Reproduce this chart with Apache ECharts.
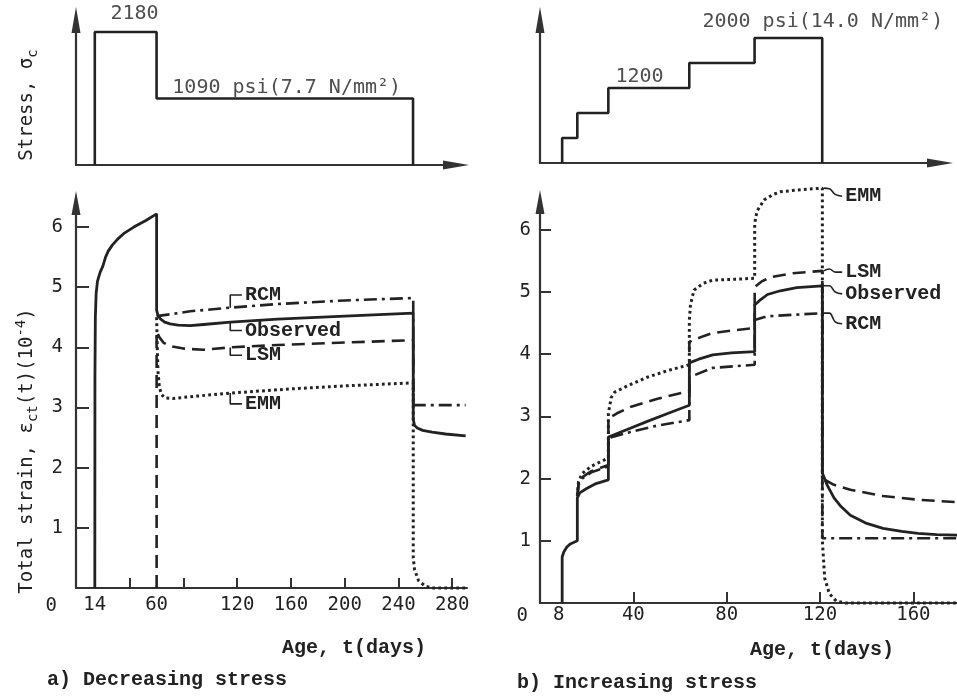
<!DOCTYPE html>
<html>
<head>
<meta charset="utf-8">
<script src="https://cdn.jsdelivr.net/npm/echarts@6/dist/echarts.min.js"></script>
<style>
  html, body { margin: 0; padding: 0; background: #fff; }
  #chart { width: 957px; height: 698px; }
</style>
</head>
<body>
<div id="chart"></div>
<script>
// ---------- a) decreasing stress ----------
// stress history [age (days), stress (psi)]
const stressA = [[14, 0], [14, 2180], [60, 2180], [60, 1090], [251, 1090], [251, 0]];

// total strain (10^-4) vs age (days)
const observedA = [
  [14, 0], [14.1, 3.5], [14.4, 4.5], [15, 4.9], [16, 5.1], [18, 5.25], [20, 5.35], [22, 5.5],
  [24, 5.6], [27, 5.7], [31, 5.8], [36, 5.9], [43, 6.0], [52, 6.11], [60, 6.22],
  [60, 4.62], [61, 4.53], [63, 4.47], [66, 4.42], [70, 4.39], [76, 4.37], [85, 4.36],
  [95, 4.38], [115, 4.42], [150, 4.47], [200, 4.52], [251, 4.57],
  [251, 2.8], [252, 2.7], [254, 2.66], [258, 2.62], [265, 2.59], [275, 2.56], [290, 2.53]
];
const rcmA = [
  [60, 4.52], [70, 4.55], [85, 4.6], [100, 4.63], [115, 4.66], [150, 4.72], [200, 4.78],
  [251, 4.82], [251, 3.04], [290, 3.04]
];
const lsmA = [
  [60, 0], [60, 4.27], [62, 4.17], [65, 4.08], [70, 4.02], [80, 3.98], [95, 3.96],
  [115, 4.0], [150, 4.04], [200, 4.08], [251, 4.12], [251, 3.04]
];
const emmA = [
  [60, 4.5], [60.5, 4.0], [61, 3.6], [62, 3.35], [63.5, 3.22], [66, 3.16], [72, 3.15],
  [90, 3.19], [115, 3.24], [160, 3.31], [200, 3.36], [251, 3.41],
  [251, 0.5], [252, 0.3], [255, 0.12], [260, 0.03], [265, 0], [290, 0]
];
const xTicksA = [40, 80, 120, 160, 200, 240, 280];
const xLabelsA = [14, 60, 120, 160, 200, 240, 280];

// ---------- b) increasing stress ----------
const stressB = [
  [9.5, 0], [9.5, 400], [16, 400], [16, 800], [29.3, 800], [29.3, 1200], [64, 1200],
  [64, 1600], [92, 1600], [92, 2000], [121, 2000], [121, 0]
];
const observedB = [
  [9.5, 0], [9.5, 0.74], [10.2, 0.82], [11.5, 0.9], [13, 0.95], [16, 1.0],
  [16, 1.69], [17, 1.77], [20, 1.84], [24, 1.92], [29.3, 1.98],
  [29.3, 2.67], [32, 2.71], [38.7, 2.81], [46, 2.92], [55, 3.05], [64, 3.18],
  [64, 3.86], [68, 3.92], [74, 3.99], [82, 4.02], [92, 4.04],
  [92, 4.79], [94, 4.86], [97.5, 4.96], [103, 5.02], [110, 5.07], [121, 5.1],
  [121, 2.09], [123, 1.9], [126, 1.69], [129, 1.55], [133, 1.41], [140, 1.28],
  [147, 1.2], [155, 1.15], [162, 1.12], [170, 1.1], [179, 1.09]
];
const rcmB = [
  [16, 1.72], [16.5, 1.9], [18, 2.0], [22, 2.1], [29.3, 2.2],
  [29.3, 2.65], [38.7, 2.75], [50, 2.85], [64, 2.94],
  [64, 3.63], [74, 3.78], [92, 3.83],
  [92, 4.55], [97.5, 4.61], [121, 4.66],
  [121, 1.04], [179, 1.04]
];
const lsmB = [
  [16, 1.72], [16.5, 1.9], [18, 2.02], [22, 2.12], [29.3, 2.22],
  [29.3, 2.97], [33, 3.05], [38.7, 3.15], [50, 3.28], [64, 3.41],
  [64, 4.2], [70, 4.29], [74, 4.34], [82, 4.38], [92, 4.42],
  [92, 5.08], [95, 5.17], [99, 5.24], [108, 5.3], [121, 5.34],
  [121, 2.0], [126, 1.9], [133, 1.82], [147, 1.72], [162, 1.66], [179, 1.62]
];
const emmB = [
  [16, 1.72], [16.5, 1.95], [18, 2.08], [22, 2.2], [29.3, 2.33],
  [29.3, 3.05], [30.5, 3.3], [32, 3.39], [38, 3.5], [46, 3.63], [55, 3.74], [64, 3.83],
  [64, 4.55], [64.5, 4.8], [66, 5.03], [70, 5.14], [74, 5.19], [92, 5.22],
  [92, 6.1], [93, 6.3], [96, 6.48], [100, 6.57], [103, 6.61], [110, 6.64], [121, 6.67],
  [121, 1.0], [122, 0.4], [124, 0.15], [127, 0.03], [131, 0], [179, 0]
];
const xTicksB = [40, 80, 120, 160];
const xLabelsB = [8, 40, 80, 120, 160];

const yTicks = [1, 2, 3, 4, 5, 6];
const yLabels = [0, 1, 2, 3, 4, 5, 6];

// annotation leaders [age, strain]; label text is the series name
const leadersA = {
  RCM: [[114.8, 4.66], [114.8, 4.87], [123.5, 4.87]],
  Observed: [[114.8, 4.42], [114.8, 4.28], [123.5, 4.28]],
  LSM: [[114.8, 4.0], [114.8, 3.87], [123.5, 3.87]],
  EMM: [[114.8, 3.24], [114.8, 3.06], [123.5, 3.06]]
};
const leadersB = {
  EMM: [[121.5, 6.67], [124, 6.66], [126.5, 6.57], [129.5, 6.54]],
  LSM: [[121.5, 5.34], [124, 5.37], [126.5, 5.32], [129.5, 5.32]],
  Observed: [[121.5, 5.1], [124, 5.1], [126.5, 5.0], [129.5, 4.97]],
  RCM: [[121.5, 4.66], [124, 4.66], [126.5, 4.52], [129.5, 4.49]]
};

// stress labels [age, stress, text] (text starts at the point)
const stressLabelsA = [[25.6, 2484, '2180'], [71.7, 1262, '1090 psi(7.7 N/mm²)']];
const stressLabelsB = [[32.3, 1376, '1200'], [69.6, 2256, '2000 psi(14.0 N/mm²)']];

// ---------- styles ----------
const ink = '#222';
const axisInk = '#333';
const sans = '"DejaVu Sans Mono", monospace';
const courier = '"Liberation Mono", monospace';

const lineTypes = {
  Observed: { type: 'solid', width: 2.8 },
  RCM: { type: [13, 5, 3, 5], width: 2.6 },
  LSM: { type: [13, 7], width: 2.6 },
  EMM: { type: [2.8, 3.2], width: 3 }
};

const arrowLine = {
  lineStyle: { color: axisInk, width: 2.2 },
  symbol: ['none', 'triangle'],
  symbolSize: [9, 26]
};

function stressX(max) {
  return {
    type: 'value', min: 0, max: max,
    axisLine: arrowLine, axisTick: { show: false }, axisLabel: { show: false },
    splitLine: { show: false }
  };
}
function stressY(max) {
  return {
    type: 'value', min: 0, max: max,
    axisLine: arrowLine, axisTick: { show: false }, axisLabel: { show: false },
    splitLine: { show: false }
  };
}
function strainX(max, ticks, labels, margin, tickLen) {
  return {
    type: 'value', min: 0, max: max,
    axisLine: { lineStyle: { color: axisInk, width: 2.2 } },
    axisTick: { inside: true, length: tickLen, customValues: ticks, lineStyle: { color: axisInk, width: 2 } },
    axisLabel: { customValues: labels, margin: margin, fontFamily: sans, fontSize: 19, color: ink },
    splitLine: { show: false }
  };
}
function strainY(max, tickLen, margin, zeroPad) {
  return {
    type: 'value', min: 0, max: max,
    axisLine: { lineStyle: { color: axisInk, width: 2.2 }, symbol: ['none', 'triangle'], symbolSize: [9, 24] },
    axisTick: { inside: true, length: tickLen, customValues: yTicks, lineStyle: { color: axisInk, width: 2 } },
    axisLabel: {
      customValues: yLabels, margin: margin, fontFamily: sans, fontSize: 19, color: ink,
      formatter: (v) => (v === 0 ? '{z|0}' : String(v)),
      rich: { z: { fontFamily: sans, fontSize: 19, color: ink, padding: zeroPad } }
    },
    splitLine: { show: false }
  };
}

function curve(name, data, grid) {
  return {
    name: name, type: 'line', data: data, xAxisIndex: grid, yAxisIndex: grid,
    symbol: 'none', clip: false, lineStyle: Object.assign({ color: ink }, lineTypes[name]),
    silent: true, z: 3
  };
}
function leader(name, data, grid, smooth) {
  return {
    name: name, type: 'line', data: data, xAxisIndex: grid, yAxisIndex: grid,
    symbol: 'none', smooth: smooth, clip: false, lineStyle: { color: ink, width: 1.6 }, silent: true,
    endLabel: {
      show: true, formatter: (p) => p.seriesName, distance: 3,
      fontFamily: courier, fontSize: 20, fontWeight: 'bold', color: ink
    }
  };
}
function labels(data, grid) {
  return {
    type: 'scatter', data: data, xAxisIndex: grid, yAxisIndex: grid,
    symbolSize: 0.1, clip: false, silent: true,
    itemStyle: { color: 'rgba(0,0,0,0)' },
    label: {
      show: true, position: 'right', distance: 0, formatter: (p) => p.data[2],
      fontFamily: sans, fontSize: 20, color: ink
    }
  };
}

const series = [
  { type: 'line', data: stressA, xAxisIndex: 0, yAxisIndex: 0, symbol: 'none', lineStyle: { color: ink, width: 2.6 } },
  { type: 'line', data: stressB, xAxisIndex: 2, yAxisIndex: 2, symbol: 'none', lineStyle: { color: ink, width: 2.6 } },
  labels(stressLabelsA, 0),
  labels(stressLabelsB, 2),
  curve('Observed', observedA, 1), curve('RCM', rcmA, 1), curve('LSM', lsmA, 1), curve('EMM', emmA, 1),
  curve('Observed', observedB, 3), curve('RCM', rcmB, 3), curve('LSM', lsmB, 3), curve('EMM', emmB, 3)
];
Object.keys(leadersA).forEach((k) => series.push(leader(k, leadersA[k], 1, false)));
Object.keys(leadersB).forEach((k) => series.push(leader(k, leadersB[k], 3, 0.4)));

const titleRich = {
  m: { fontFamily: sans, fontSize: 19, lineHeight: 26, verticalAlign: 'middle', fill: ink },
  s: { fontFamily: sans, fontSize: 14, lineHeight: 14, verticalAlign: 'bottom', fill: ink },
  p: { fontFamily: sans, fontSize: 14, lineHeight: 14, verticalAlign: 'top', fill: ink }
};
const capStyle = { fontFamily: courier, fontSize: 20, fontWeight: 'bold', fill: ink, verticalAlign: 'middle' };

const chart = echarts.init(document.getElementById('chart'));
chart.setOption({
  animation: false,
  backgroundColor: '#fff',
  grid: [
    { left: 76, top: 20, width: 380, height: 145 },
    { left: 76, top: 203, width: 391, height: 385 },
    { left: 540, top: 20, width: 400, height: 143 },
    { left: 540, top: 202, width: 417, height: 401 }
  ],
  xAxis: [
    Object.assign(stressX(283), { gridIndex: 0 }),
    Object.assign(strainX(291, xTicksA, xLabelsA, 8, 10), { gridIndex: 1 }),
    Object.assign(stressX(171.5), { gridIndex: 2 }),
    Object.assign(strainX(178.7, xTicksB, xLabelsB, 3, 11), { gridIndex: 3 })
  ],
  yAxis: [
    Object.assign(stressY(2377), { gridIndex: 0 }),
    Object.assign(strainY(6.4, 13, 13, [36, 6, 0, 0]), { gridIndex: 1 }),
    Object.assign(stressY(2288), { gridIndex: 2 }),
    Object.assign(strainY(6.447, 11, 9, [26, 3, 0, 0]), { gridIndex: 3 })
  ],
  graphic: [
    { type: 'text', x: 27, y: 105, rotation: Math.PI / 2,
      style: { text: '{m|Stress, σ}{s|c}', rich: titleRich, align: 'center', verticalAlign: 'middle' } },
    { type: 'text', x: 27, y: 451, rotation: Math.PI / 2,
      style: { text: '{m|Total strain, ε}{s|ct}{m|(t)(10}{p|-4}{m|)}', rich: titleRich, align: 'center', verticalAlign: 'middle' } },
    { type: 'text', x: 282, y: 648, style: Object.assign({ text: 'Age, t(days)' }, capStyle) },
    { type: 'text', x: 750, y: 650, style: Object.assign({ text: 'Age, t(days)' }, capStyle) },
    { type: 'text', x: 47, y: 680, style: Object.assign({ text: 'a) Decreasing stress' }, capStyle) },
    { type: 'text', x: 517, y: 683, style: Object.assign({ text: 'b) Increasing stress' }, capStyle) }
  ],
  series: series
});
</script>
</body>
</html>
